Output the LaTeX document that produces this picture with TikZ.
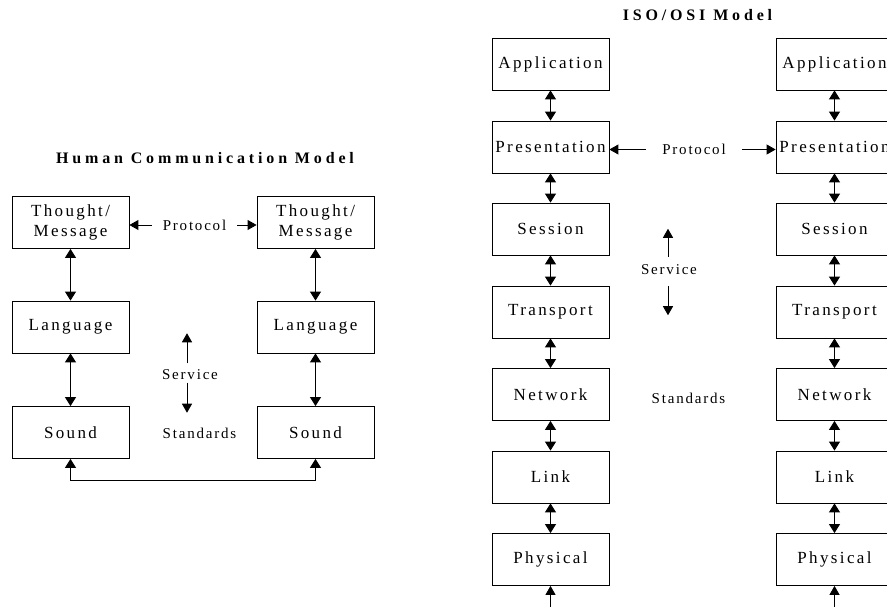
\documentclass[tikz,border=0pt]{standalone}
\usepackage{fontspec}
\setmainfont{Liberation Serif}
\newfontfamily\boxfont[LetterSpace=14]{Liberation Serif}
\newfontfamily\lblfont[LetterSpace=12]{Liberation Serif}
\newfontfamily\ttlfont[LetterSpace=24]{Liberation Serif}
\usetikzlibrary{arrows.meta}
\tikzset{
  box/.style={draw,line width=0.8pt,minimum width=117pt,minimum height=52pt,
    inner sep=0pt,align=center,font=\boxfont\fontsize{17}{20}\selectfont},
  lbl/.style={inner sep=0pt,font=\lblfont\fontsize{15}{17}\selectfont},
  ttl/.style={inner sep=0pt,font=\ttlfont\bfseries\fontsize{16}{18}\selectfont},
  arr/.style={line width=0.9pt,{Triangle[width=11pt,length=9pt]}-{Triangle[width=11pt,length=9pt]}},
  harr/.style={line width=0.9pt,-{Triangle[width=10pt,length=9pt]}},
}
\begin{document}
\begin{tikzpicture}[x=1pt,y=-1pt,line cap=butt,line join=miter]
  \useasboundingbox (0,0) rectangle (887,607);
  % human communication model
  \node[ttl] (hcmT) at (205,158) {Human Communication Model};
  \node[box] (tmL) at (70.5,222.5) {Thought/\\Message};
  \node[box] (tmR) at (315.5,222.5) {Thought/\\Message};
  \node[box] (lgL) at (70.5,327) {Language};
  \node[box] (lgR) at (315.5,327) {Language};
  \node[box] (sdL) at (70.5,432.5) {Sound};
  \node[box] (sdR) at (315.5,432.5) {Sound};
  \node[lbl,inner xsep=11pt] (protH) at (194.5,225) {Protocol};
  \node[lbl] (svcH) at (190,374.5) {Service};
  \node[lbl] (stdH) at (199.5,433) {Standards};
  \draw[arr] (tmL.south) -- (lgL.north);
  \draw[arr] (lgL.south) -- (sdL.north);
  \draw[arr] (tmR.south) -- (lgR.north);
  \draw[arr] (lgR.south) -- (sdR.north);
  \draw[harr] (protH.west) -- (protH.west -| tmL.east);
  \draw[harr] (protH.east) -- (protH.east -| tmR.west);
  \draw[harr] ([xshift=-3pt,yshift=6pt]svcH.north) -- ++(0,-30);
  \draw[harr] ([xshift=-3pt,yshift=-3pt]svcH.south) -- ++(0,30);
  \draw[arr] (sdL.south) -- ++(0,22) -| (sdR.south);
  % iso/osi model
  \node[ttl] (isoT) at (697.5,15) {ISO/OSI Model};
  \node[box] (appL) at (550.5,64) {Application};
  \node[box] (preL) at (550.5,147) {Presentation};
  \node[box] (sesL) at (550.5,229) {Session};
  \node[box] (traL) at (550.5,312) {Transport};
  \node[box] (netL) at (550.5,394.5) {Network};
  \node[box] (lnkL) at (550.5,477) {Link};
  \node[box] (phyL) at (550.5,559.5) {Physical};
  \node[box] (appR) at (834.5,64) {Application};
  \node[box] (preR) at (834.5,147) {Presentation};
  \node[box] (sesR) at (834.5,229) {Session};
  \node[box] (traR) at (834.5,312) {Transport};
  \node[box] (netR) at (834.5,394.5) {Network};
  \node[box] (lnkR) at (834.5,477) {Link};
  \node[box] (phyR) at (834.5,559.5) {Physical};
  \node[lbl,inner xsep=16pt] (protI) at (694,149.5) {Protocol};
  \node[lbl] (svcI) at (669,270) {Service};
  \node[lbl] (stdI) at (688.5,398) {Standards};
  \coordinate (endL) at (550.5,612);
  \coordinate (endR) at (834.5,612);
  \draw[arr] (appL.south) -- (preL.north);
  \draw[arr] (preL.south) -- (sesL.north);
  \draw[arr] (sesL.south) -- (traL.north);
  \draw[arr] (traL.south) -- (netL.north);
  \draw[arr] (netL.south) -- (lnkL.north);
  \draw[arr] (lnkL.south) -- (phyL.north);
  \draw[arr] (appR.south) -- (preR.north);
  \draw[arr] (preR.south) -- (sesR.north);
  \draw[arr] (sesR.south) -- (traR.north);
  \draw[arr] (traR.south) -- (netR.north);
  \draw[arr] (netR.south) -- (lnkR.north);
  \draw[arr] (lnkR.south) -- (phyR.north);
  \draw[harr] (endL) -- (phyL.south);
  \draw[harr] (endR) -- (phyR.south);
  \draw[harr] (protI.west) -- (protI.west -| preL.east);
  \draw[harr] (protI.east) -- (protI.east -| preR.west);
  \draw[harr] ([xshift=-1pt,yshift=8pt]svcI.north) -- ++(0,-28);
  \draw[harr] ([xshift=-1pt,yshift=-11pt]svcI.south) -- ++(0,29);
\end{tikzpicture}
\end{document}
